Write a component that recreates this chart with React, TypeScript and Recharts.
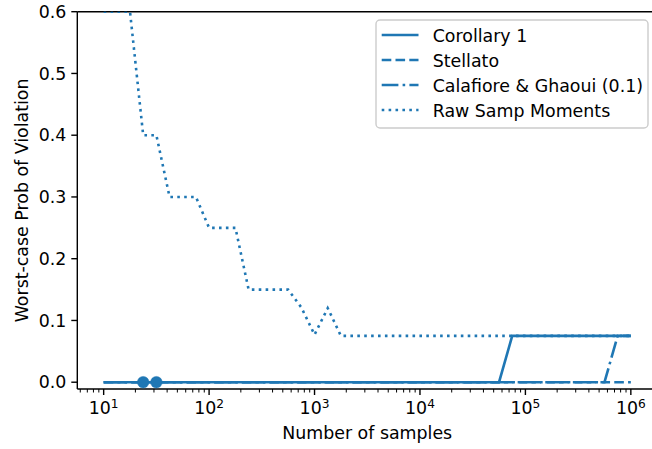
import React from 'react';
import { ComposedChart, Line, XAxis, YAxis, ReferenceLine, Legend } from 'recharts';

const samples = [
  10, 13.34, 17.78, 23.71, 31.62, 42.17, 56.23, 74.99, 100, 133.4, 177.8, 237.1, 316.2, 421.7,
  562.3, 749.9, 1000, 1334, 1778, 2371, 3162, 4217, 5623, 7499, 10000, 13335, 17783, 23714,
  31623, 42170, 56234, 74989, 100000, 133352, 177828, 237137, 316228, 421697, 562341, 749894,
  1000000,
];

const corollary = [
  0, 0, 0, 0, 0, 0, 0, 0, 0, 0, 0, 0, 0, 0, 0, 0, 0, 0, 0, 0, 0, 0, 0, 0, 0, 0, 0, 0, 0, 0, 0,
  0.075, 0.075, 0.075, 0.075, 0.075, 0.075, 0.075, 0.075, 0.075, 0.075,
];

const stellato = [
  0, 0, 0, 0, 0, 0, 0, 0, 0, 0, 0, 0, 0, 0, 0, 0, 0, 0, 0, 0, 0, 0, 0, 0, 0, 0, 0, 0, 0, 0, 0,
  0, 0, 0, 0, 0, 0, 0, 0, 0, 0,
];

const calafiore = [
  0, 0, 0, 0, 0, 0, 0, 0, 0, 0, 0, 0, 0, 0, 0, 0, 0, 0, 0, 0, 0, 0, 0, 0, 0, 0, 0, 0, 0, 0, 0,
  0, 0, 0, 0, 0, 0, 0, 0, 0.075, 0.075,
];

const rawMoments = [
  0.6, 0.6, 0.6, 0.4, 0.4, 0.3, 0.3, 0.3, 0.25, 0.25, 0.25, 0.15, 0.15, 0.15, 0.15, 0.121, 0.077,
  0.12, 0.075, 0.075, 0.075, 0.075, 0.075, 0.075, 0.075, 0.075, 0.075, 0.075, 0.075, 0.075, 0.075,
  0.075, 0.075, 0.075, 0.075, 0.075, 0.075, 0.075, 0.075, 0.075, 0.075,
];

const markerValues: (number | null)[] = [
  null, null, null, 0, 0, null, null, null, null, null, null, null, null, null, null, null, null,
  null, null, null, null, null, null, null, null, null, null, null, null, null, null, null, null,
  null, null, null, null, null, null, null, null,
];

const seriesNames = ['Corollary 1', 'Stellato', 'Calafiore & Ghaoui (0.1)', 'Raw Samp Moments'];
const seriesKeys = ['corollary', 'stellato', 'calafiore', 'raw'];

const xMajorTicks = [10, 100, 1000, 10000, 100000, 1000000];
const xMinorTicks = [
  6, 7, 8, 9, 20, 30, 40, 50, 60, 70, 80, 90, 200, 300, 400, 500, 600, 700, 800, 900, 2000, 3000,
  4000, 5000, 6000, 7000, 8000, 9000, 20000, 30000, 40000, 50000, 60000, 70000, 80000, 90000,
  200000, 300000, 400000, 500000, 600000, 700000, 800000, 900000,
];
const yTicks = [0, 0.1, 0.2, 0.3, 0.4, 0.5, 0.6];

const COLOR = '#1f77b4';
const FONT = 'DejaVu Sans, sans-serif';
const LW = 2.6;
const dashes = ['', '9.6 4.2', '16.7 4.2 2.6 4.2', '2.6 4.3'];

const data = samples.map((x, i) => ({
  x,
  corollary: corollary[i],
  stellato: stellato[i],
  calafiore: calafiore[i],
  raw: rawMoments[i],
  marker: markerValues[i],
}));

const XTick = (props: any) => {
  const { x, y, payload } = props;
  const v = payload.value;
  const isMajor = xMajorTicks.includes(v);
  const exp = Math.round(Math.log10(v));
  return (
    <g>
      <line
        x1={x}
        x2={x}
        y1={y}
        y2={y + (isMajor ? 6 : 3.5)}
        stroke="#000"
        strokeWidth={isMajor ? 1.4 : 1.0}
      />
      {isMajor && (
        <text x={x} y={y + 25.3} textAnchor="middle" fontSize={17.4} fontFamily={FONT} fill="#000">
          10
          <tspan dy={-6.5} fontSize={12.2}>
            {exp}
          </tspan>
        </text>
      )}
    </g>
  );
};

const LegendBox = () => (
  <svg width={276} height={112} style={{ display: 'block' }}>
    <rect
      x={1}
      y={1}
      width={272}
      height={108}
      rx={4}
      ry={4}
      fill="#ffffff"
      fillOpacity={0.8}
      stroke="#cccccc"
      strokeWidth={1.4}
    />
    {seriesNames.map((name, i) => (
      <g key={name}>
        <line
          x1={6.7}
          x2={43.5}
          y1={16 + i * 25}
          y2={16 + i * 25}
          stroke={COLOR}
          strokeWidth={LW}
          strokeDasharray={dashes[i] || undefined}
        />
        <text x={57.7} y={22.7 + i * 25} fontSize={17.4} fontFamily={FONT} fill="#000">
          {name}
        </text>
      </g>
    ))}
  </svg>
);

export default function App() {
  return (
    <div style={{ position: 'absolute', left: 0, top: 0, width: 652, height: 449, overflow: 'hidden', background: '#fff' }}>
      <ComposedChart
        width={660}
        height={449}
        data={data}
        margin={{ top: 11.7, right: 2.8, bottom: 0, left: 0 }}
      >
        <XAxis
          dataKey="x"
          type="number"
          scale="log"
          domain={[Math.pow(10, 0.75), Math.pow(10, 6.25)]}
          allowDataOverflow
          ticks={[...xMajorTicks, ...xMinorTicks]}
          interval={0}
          tick={<XTick />}
          tickLine={false}
          tickSize={0}
          tickMargin={0}
          height={60}
          axisLine={{ stroke: '#000', strokeWidth: 1.4 }}
          label={{
            content: () => (
              <text x={367.2} y={439} textAnchor="middle" fontSize={17.4} fontFamily={FONT} fill="#000">
                Number of samples
              </text>
            ),
          }}
        />
        <YAxis
          type="number"
          domain={[-0.011, 0.6]}
          allowDataOverflow
          ticks={yTicks}
          interval={0}
          width={77.3}
          tickFormatter={(v: number) => v.toFixed(1)}
          tick={{ fontSize: 17.4, fill: '#000', fontFamily: FONT }}
          tickLine={{ stroke: '#000', strokeWidth: 1.4 }}
          tickSize={6}
          tickMargin={5}
          axisLine={{ stroke: '#000', strokeWidth: 1.4 }}
          label={{
            content: () => (
              <text
                x={28}
                y={200.4}
                transform="rotate(-90 28 200.4)"
                textAnchor="middle"
                fontSize={17.4}
                fontFamily={FONT}
                fill="#000"
              >
                Worst-case Prob of Violation
              </text>
            ),
          }}
        />
        <ReferenceLine y={0.6} stroke="#000" strokeWidth={1.4} ifOverflow="extendDomain" />
        <ReferenceLine x={Math.pow(10, 6.25)} stroke="#000" strokeWidth={1.4} />
        {seriesKeys.map((k, i) => (
          <Line
            key={k}
            dataKey={k}
            name={seriesNames[i]}
            type="linear"
            stroke={COLOR}
            strokeWidth={LW}
            strokeDasharray={dashes[i] || undefined}
            dot={false}
            activeDot={false}
            isAnimationActive={false}
          />
        ))}
        <Line
          dataKey="marker"
          type="linear"
          stroke="none"
          legendType="none"
          dot={{ r: 5.8, fill: COLOR, stroke: COLOR, strokeWidth: 0.5 }}
          activeDot={false}
          connectNulls={false}
          isAnimationActive={false}
        />
        <Legend
          layout="horizontal"
          verticalAlign="middle"
          align="center"
          content={<LegendBox />}
          wrapperStyle={{ position: 'absolute', left: 375, top: 19, width: 276, height: 112 }}
        />
      </ComposedChart>
    </div>
  );
}
